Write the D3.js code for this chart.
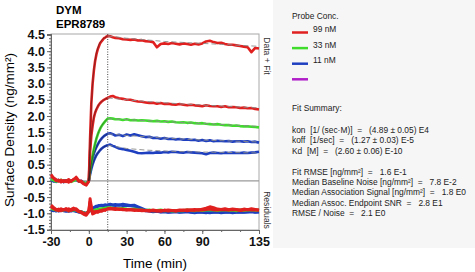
<!DOCTYPE html>
<html>
<head>
<meta charset="utf-8">
<script src="https://cdn.jsdelivr.net/npm/d3@7"></script>
<style>
  body { margin: 0; background: #fff; }
  svg { display: block; font-family: Arial, "Liberation Sans", sans-serif; }
  .tick text { font-weight: bold; font-size: 12.5px; fill: #111; }
  .info { font-size: 8.4px; fill: #222; white-space: pre; }
</style>
</head>
<body>
<svg width="475" height="272"></svg>
<script>
// sample times (min)
var times = [-30,-28,-26,-24,-22,-20,-18,-16,-14,-12,-10,-8,-6,-4,-2,0,
  1,2,3,4,5,6,7,8,9,10,11,12,13,14,15,
  17,19,21,24,27,30,33,36,39,42,45,48,51,54,57,60,63,66,69,72,75,78,81,84,87,90,93,96,99,102,105,108,111,114,117,120,123,126,129,132,135];

// data traces (ng/mm2)
var red1 = [0.2,0.1,0.05,-0.02,0.03,-0.03,0.02,-0.05,0.0,0.04,0.12,0.02,-0.04,-0.1,-0.14,-0.02,
  1.3,2.4,3.0,3.4,3.7,3.9,4.05,4.15,4.25,4.3,4.35,4.4,4.42,4.45,4.47,
  4.46,4.43,4.41,4.4,4.37,4.36,4.35,4.36,4.33,4.34,4.31,4.3,4.28,4.12,4.22,4.24,4.22,4.25,4.23,4.21,
  4.24,4.22,4.2,4.23,4.21,4.24,4.3,4.32,4.28,4.25,4.26,4.22,4.2,4.2,4.18,4.16,4.14,4.12,3.97,4.1,4.08];
var red2 = [0.15,0.08,0.0,0.03,-0.04,0.02,-0.03,0.05,-0.02,0.06,0.08,-0.02,0.0,-0.08,-0.12,0.0,
  0.9,1.4,1.7,1.95,2.1,2.2,2.28,2.35,2.4,2.44,2.47,2.5,2.52,2.54,2.56,
  2.6,2.62,2.58,2.55,2.53,2.5,2.5,2.47,2.45,2.44,2.42,2.4,2.41,2.38,2.4,2.37,2.38,2.36,2.35,2.37,
  2.35,2.33,2.35,2.33,2.32,2.3,2.33,2.31,2.3,2.3,2.28,2.3,2.27,2.28,2.27,2.25,2.26,2.24,2.25,2.22,2.2];
var green1 = [0.05,0.02,-0.02,0.0,0.03,-0.02,0.0,0.02,-0.03,0.0,0.04,0.0,-0.03,-0.05,-0.08,0.0,
  0.3,0.55,0.78,0.98,1.15,1.3,1.42,1.52,1.61,1.68,1.74,1.79,1.84,1.88,1.92,
  1.93,1.92,1.9,1.9,1.88,1.9,1.87,1.88,1.86,1.87,1.86,1.85,1.84,1.85,1.83,1.84,1.82,1.83,1.81,1.8,
  1.81,1.79,1.8,1.78,1.77,1.78,1.76,1.75,1.74,1.75,1.73,1.72,1.72,1.7,1.71,1.69,1.68,1.68,1.67,1.66,1.65];
var blue1 = [0.06,0.0,-0.03,0.02,0.0,-0.04,0.02,0.0,-0.02,0.03,0.05,-0.02,0.0,-0.06,-0.09,0.0,
  0.3,0.52,0.7,0.84,0.95,1.04,1.12,1.19,1.25,1.3,1.34,1.38,1.41,1.43,1.45,
  1.47,1.44,1.4,1.42,1.38,1.43,1.4,1.44,1.41,1.38,1.35,1.36,1.32,1.33,1.3,1.32,1.29,1.3,1.28,1.29,
  1.27,1.28,1.26,1.27,1.24,1.26,1.23,1.25,1.22,1.24,1.23,1.22,1.23,1.21,1.22,1.22,1.21,1.22,1.2,1.21,1.18];
var blue2 = [0.03,-0.02,0.0,0.03,-0.03,0.0,0.02,-0.02,0.0,0.02,0.03,0.0,-0.02,-0.05,-0.07,0.0,
  0.2,0.37,0.51,0.62,0.71,0.79,0.85,0.9,0.95,0.99,1.02,1.05,1.07,1.09,1.1,
  1.12,1.08,1.05,1.0,0.98,0.95,0.93,0.9,0.86,0.85,0.86,0.87,0.86,0.88,0.87,0.89,0.88,0.9,0.89,0.88,
  0.87,0.89,0.88,0.87,0.86,0.85,0.82,0.86,0.87,0.86,0.85,0.87,0.86,0.87,0.86,0.86,0.87,0.86,0.87,0.88,0.9];

// residual traces, drawn offset below zero
var resRed1 = [-0.75,-0.82,-0.88,-0.92,-0.86,-0.9,-0.85,-0.93,-0.88,-0.84,-0.9,-0.95,-0.98,-1.03,-1.06,-0.95,
  -0.55,-0.8,-1.02,-1.0,-0.98,-0.96,-0.97,-0.95,-0.93,-0.94,-0.92,-0.9,-0.91,-0.88,-0.86,
  -0.84,-0.86,-0.85,-0.88,-0.87,-0.9,-0.88,-0.91,-0.9,-0.92,-0.91,-0.93,-0.9,-0.92,-0.94,-0.9,-0.93,-0.91,-0.92,-0.9,
  -0.91,-0.89,-0.9,-0.88,-0.9,-0.87,-0.84,-0.8,-0.83,-0.87,-0.88,-0.86,-0.89,-0.87,-0.88,-0.9,-0.87,-0.89,-0.86,-0.88,-0.9];
var resRed2 = [-0.8,-0.85,-0.9,-0.87,-0.92,-0.88,-0.9,-0.86,-0.91,-0.88,-0.86,-0.93,-0.96,-1.0,-1.02,-0.92,
  -0.65,-0.85,-0.98,-0.97,-0.95,-0.94,-0.95,-0.93,-0.92,-0.91,-0.9,-0.9,-0.89,-0.88,-0.87,
  -0.86,-0.87,-0.88,-0.87,-0.89,-0.88,-0.9,-0.89,-0.91,-0.9,-0.92,-0.91,-0.92,-0.93,-0.91,-0.92,-0.9,-0.91,-0.93,-0.91,
  -0.9,-0.92,-0.9,-0.91,-0.89,-0.9,-0.88,-0.87,-0.89,-0.9,-0.88,-0.89,-0.9,-0.88,-0.89,-0.91,-0.9,-0.88,-0.9,-0.89,-0.91];
var resGreen1 = [-0.85,-0.88,-0.9,-0.89,-0.91,-0.9,-0.88,-0.92,-0.9,-0.89,-0.9,-0.94,-0.96,-0.99,-1.0,-0.93,
  -0.88,-0.9,-0.92,-0.91,-0.9,-0.89,-0.88,-0.87,-0.86,-0.86,-0.85,-0.85,-0.84,-0.84,-0.83,
  -0.83,-0.84,-0.85,-0.86,-0.85,-0.87,-0.88,-0.87,-0.89,-0.9,-0.91,-0.9,-0.92,-0.91,-0.9,-0.92,-0.91,-0.93,-0.92,-0.91,
  -0.92,-0.9,-0.91,-0.92,-0.9,-0.91,-0.9,-0.89,-0.9,-0.91,-0.9,-0.89,-0.91,-0.9,-0.92,-0.9,-0.91,-0.9,-0.89,-0.91,-0.9];
var resBlue1 = [-0.88,-0.9,-0.93,-0.9,-0.92,-0.89,-0.91,-0.94,-0.9,-0.92,-0.93,-0.95,-0.97,-0.98,-1.0,-0.94,
  -0.9,-0.88,-0.85,-0.82,-0.8,-0.78,-0.77,-0.76,-0.76,-0.75,-0.76,-0.75,-0.74,-0.75,-0.74,
  -0.72,-0.74,-0.73,-0.75,-0.72,-0.74,-0.76,-0.75,-0.8,-0.85,-0.9,-0.92,-0.94,-0.93,-0.95,-0.94,-0.96,-0.95,-0.94,-0.96,
  -0.95,-0.94,-0.96,-0.97,-0.95,-0.96,-0.97,-0.98,-0.96,-0.95,-0.97,-0.96,-0.95,-0.97,-0.96,-0.95,-0.96,-0.95,-0.94,-0.96,-0.95];
var resBlue2 = [-0.9,-0.92,-0.89,-0.93,-0.9,-0.92,-0.94,-0.91,-0.93,-0.9,-0.94,-0.96,-0.95,-0.99,-1.01,-0.95,
  -0.92,-0.9,-0.87,-0.84,-0.82,-0.8,-0.79,-0.78,-0.77,-0.77,-0.76,-0.76,-0.75,-0.76,-0.75,
  -0.74,-0.75,-0.76,-0.74,-0.76,-0.75,-0.77,-0.78,-0.83,-0.88,-0.92,-0.93,-0.95,-0.94,-0.96,-0.95,-0.97,-0.96,-0.95,-0.97,
  -0.96,-0.95,-0.97,-0.98,-0.96,-0.97,-0.98,-0.96,-0.97,-0.96,-0.98,-0.97,-0.96,-0.98,-0.97,-0.96,-0.97,-0.96,-0.95,-0.97,-0.96];

// fitted curves
var fitTimes = [0,1,2,3,4,6,8,10,12,15,30,45,60,75,90,105,120,135];
var fitRed1 = [0,1.35,2.35,3.0,3.45,3.95,4.2,4.33,4.4,4.47,4.4,4.35,4.3,4.27,4.24,4.21,4.18,4.15];
var fitRed2 = [0,0.95,1.45,1.75,1.98,2.22,2.36,2.44,2.5,2.56,2.5,2.45,2.41,2.37,2.34,2.31,2.28,2.25];
var fitGreen1 = [0,0.3,0.56,0.79,0.99,1.31,1.53,1.69,1.8,1.92,1.89,1.86,1.83,1.8,1.77,1.74,1.71,1.68];
var fitBlue1 = [0,0.3,0.52,0.7,0.84,1.04,1.19,1.3,1.38,1.45,1.4,1.36,1.32,1.29,1.26,1.24,1.22,1.2];
var fitBlue2 = [0,0.2,0.37,0.51,0.62,0.79,0.9,0.99,1.05,1.1,1.0,0.95,0.92,0.9,0.89,0.88,0.87,0.86];

var xTicks = [-30, 0, 30, 60, 90, 135];
var yTicks = [-1.5, -1.0, -0.5, 0.0, 0.5, 1.0, 1.5, 2.0, 2.5, 3.0, 3.5, 4.0, 4.5];

var legendLabels = ["99 nM", "33 nM", "11 nM", ""];
var legendColors = ["#e01f1f", "#3fdc2c", "#1e3fbf", "#b01ec8"];

var summaryLines = [
  "kon  [1/ (sec\u00b7M)]  =   (4.89 \u00b1 0.05) E4",
  "koff  [1/sec]  =   (1.27 \u00b1 0.03) E-5",
  "Kd  [M]  =   (2.60 \u00b1 0.06) E-10",
  "",
  "Fit RMSE [ng/mm\u00b2]  =   1.6 E-1",
  "Median Baseline Noise [ng/mm\u00b2]  =   7.8 E-2",
  "Median Association Signal [ng/mm\u00b2]  =   1.8 E0",
  "Median Assoc. Endpoint SNR  =   2.8 E1",
  "RMSE / Noise  =   2.1 E0"
];

var svg = d3.select("svg");

var x = d3.scaleLinear().domain([-30, 135]).range([51, 259]);
var y = d3.scaleLinear().domain([-1.515, 4.53]).range([230, 34]);

// right info panel
svg.append("rect")
  .attr("x", 273).attr("y", 0).attr("width", 202).attr("height", 248)
  .attr("fill", "#f6f6f6");

// title
svg.append("text").attr("x", 56).attr("y", 14)
  .style("font-weight", "bold").style("font-size", "11.5px").text("DYM");
svg.append("text").attr("x", 56).attr("y", 28)
  .style("font-weight", "bold").style("font-size", "11.5px").text("EPR8789");

// plot frame
svg.append("rect")
  .attr("x", x(-30)).attr("y", 34)
  .attr("width", x(135) - x(-30)).attr("height", 196)
  .attr("fill", "none").attr("stroke", "#a8a8a8");

// zero line
svg.append("line")
  .attr("x1", x(-30)).attr("x2", x(135))
  .attr("y1", y(0)).attr("y2", y(0))
  .attr("stroke", "#9a9a9a").attr("stroke-width", 1.2);

// injection end marker
svg.append("line")
  .attr("x1", x(15)).attr("x2", x(15))
  .attr("y1", 34).attr("y2", 230)
  .attr("stroke", "#444").attr("stroke-dasharray", "1,1.5");

// axes (plain hyphen for negatives, as in the original)
var yAxis = d3.axisLeft(y).tickValues(yTicks)
  .tickFormat(function(d) { return d.toFixed(1); })
  .tickSize(4).tickPadding(2);
var yMinor = d3.axisLeft(y).tickValues(d3.range(-15, 46).map(function(d) { return d / 10; }))
  .tickFormat("").tickSize(2);
var xAxis = d3.axisBottom(x).tickValues(xTicks)
  .tickFormat(function(d) { return String(d); })
  .tickSize(4).tickPadding(3);
var xMinor = d3.axisBottom(x).tickValues(d3.range(-30, 136, 15)).tickFormat("").tickSize(2);

function styleAxis(g) {
  g.select(".domain").attr("stroke", "#666");
  g.selectAll(".tick line").attr("stroke", "#666");
}

svg.append("g").attr("transform", "translate(" + x(-30) + ",0)").call(yMinor).call(styleAxis);
svg.append("g").attr("transform", "translate(" + x(-30) + ",0)").call(yAxis).call(styleAxis);
svg.append("g").attr("transform", "translate(0,230)").call(xMinor).call(styleAxis);
svg.append("g").attr("transform", "translate(0,230)").call(xAxis).call(styleAxis);

// axis titles
svg.append("text")
  .attr("x", 155).attr("y", 268).attr("text-anchor", "middle")
  .style("font-size", "13.5px").text("Time (min)");
svg.append("text")
  .attr("transform", "translate(14,130) rotate(-90)").attr("text-anchor", "middle")
  .style("font-size", "13.5px").text("Surface Density (ng/mm\u00b2)");

svg.append("text")
  .attr("transform", "translate(264,56) rotate(90)").attr("text-anchor", "middle")
  .style("font-size", "8.6px").style("fill", "#333").text("Data + Fit");
svg.append("text")
  .attr("transform", "translate(264,210) rotate(90)").attr("text-anchor", "middle")
  .style("font-size", "8.6px").style("fill", "#333").text("Residuals");

// traces
var line = d3.line()
  .x(function(d) { return x(d[0]); })
  .y(function(d) { return y(d[1]); });

function pairs(t, v) {
  return t.map(function(e, i) { return [e, v[i]]; });
}

var residuals = [
  { v: resBlue2, c: legendColors[2] },
  { v: resBlue1, c: legendColors[2] },
  { v: resGreen1, c: legendColors[1] },
  { v: resRed2, c: legendColors[0] },
  { v: resRed1, c: legendColors[0] }
];
var traces = [
  { v: blue2, f: fitBlue2, c: legendColors[2] },
  { v: blue1, f: fitBlue1, c: legendColors[2] },
  { v: green1, f: fitGreen1, c: legendColors[1] },
  { v: red2, f: fitRed2, c: legendColors[0] },
  { v: red1, f: fitRed1, c: legendColors[0] }
];

svg.append("g").selectAll("path")
  .data(residuals)
  .enter().append("path")
    .attr("d", function(d) { return line(pairs(times, d.v)); })
    .attr("fill", "none")
    .attr("stroke", function(d) { return d.c; })
    .attr("stroke-width", 3)
    .attr("stroke-linejoin", "round");

svg.append("g").selectAll("path")
  .data(traces)
  .enter().append("path")
    .attr("d", function(d) { return line(pairs(times, d.v)); })
    .attr("fill", "none")
    .attr("stroke", function(d) { return d.c; })
    .attr("stroke-width", 2.6)
    .attr("stroke-linejoin", "round");

// fit: association part solid and dark, dissociation part dashed grey
svg.append("g").selectAll("path")
  .data(traces)
  .enter().append("path")
    .attr("d", function(d) {
      return line(pairs(fitTimes, d.f).filter(function(p) { return p[0] <= 15; }));
    })
    .attr("fill", "none")
    .attr("stroke", "#222").attr("stroke-opacity", 0.55)
    .attr("stroke-width", 0.8);

svg.append("g").selectAll("path")
  .data(traces)
  .enter().append("path")
    .attr("d", function(d) {
      return line(pairs(fitTimes, d.f).filter(function(p) { return p[0] >= 15; }));
    })
    .attr("fill", "none")
    .attr("stroke", "#8a8a8a")
    .attr("stroke-width", 0.9)
    .attr("stroke-dasharray", "5,3");

// legend
svg.append("text").attr("class", "info").attr("x", 292).attr("y", 19).text("Probe Conc.");
var leg = svg.append("g").selectAll("g")
  .data(legendLabels)
  .enter().append("g")
    .attr("transform", function(d, i) { return "translate(292," + (32.5 + i * 15.6) + ")"; });
leg.append("line")
  .attr("x1", 0).attr("x2", 16)
  .attr("stroke", function(d, i) { return legendColors[i]; })
  .attr("stroke-width", 2.5);
leg.append("text").attr("class", "info")
  .attr("x", 21).attr("y", -0.5)
  .text(function(d) { return d; });

svg.append("text").attr("class", "info").attr("x", 292).attr("y", 111).text("Fit Summary:");
svg.append("g").selectAll("text")
  .data(summaryLines)
  .enter().append("text")
    .attr("class", "info")
    .attr("x", 292)
    .attr("y", function(d, i) { return 133 + i * 10.4; })
    .text(function(d) { return d; });
</script>
</body>
</html>
